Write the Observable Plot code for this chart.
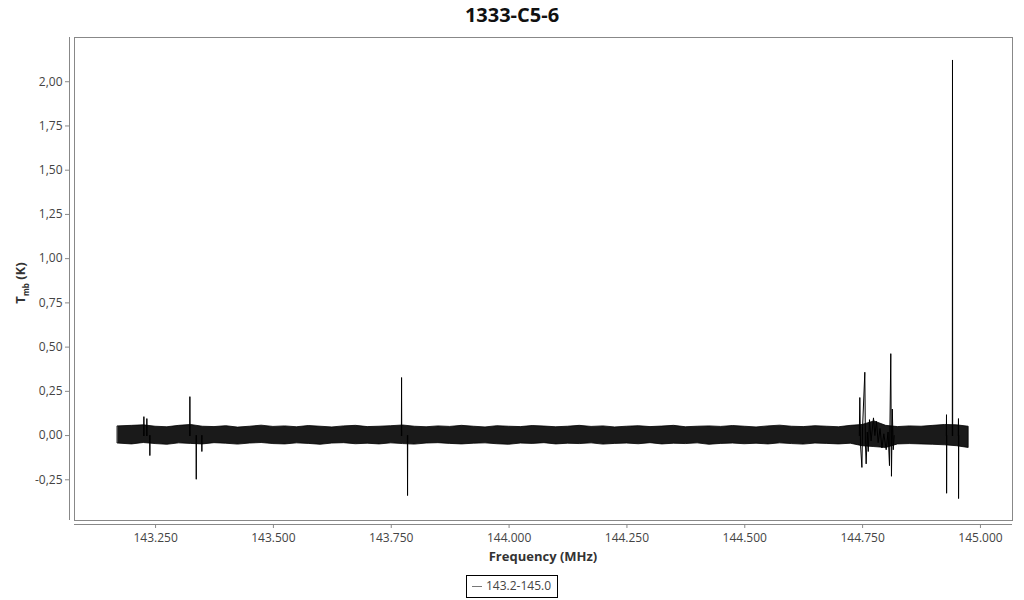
<!DOCTYPE html>
<html>
<head>
<meta charset="utf-8">
<script src="https://cdn.jsdelivr.net/npm/d3@7"></script>
<script src="https://cdn.jsdelivr.net/npm/@observablehq/plot@0.6"></script>
<style>
  body { margin: 0; background: #fff; font-family: "Open Sans", sans-serif; }
  #wrap { position: relative; width: 1024px; height: 600px; overflow: hidden; }
  #title { position: absolute; left: 0; top: 1px; width: 1024px; text-align: center;
           font: bold 20px "Open Sans", sans-serif; color: #111; }
  #chart { position: absolute; left: 0; top: 0; }
  #legend { position: absolute; left: 466px; top: 575px; width: 90px; height: 21px;
            border: 1px solid #000; box-sizing: content-box; font: 12px "Open Sans", sans-serif; color: #444; }
  #legend .sw { position: absolute; left: 5px; top: 10px; width: 10px; height: 0; border-top: 1px solid #777; }
  #legend .lb { position: absolute; left: 19px; top: 2px; line-height: 16px; white-space: nowrap; }
</style>
</head>
<body>
<div id="wrap">
  <div id="chart"></div>
  <div id="title"></div>
  <div id="legend"><span class="sw"></span><span class="lb"></span></div>
</div>
<script>
// ---- Text ----
const titleText = "1333-C5-6";
const xLabel = "Frequency (MHz)";
const seriesName = "143.2-145.0";

// ---- Ticks ----
const xTicks = [143.25, 143.5, 143.75, 144.0, 144.25, 144.5, 144.75, 145.0];
const yTicks = [-0.25, 0, 0.25, 0.5, 0.75, 1.0, 1.25, 1.5, 1.75, 2.0];

// ---- Baseline noise envelope (MHz, K) ----
const bandFreq = [
  143.170,143.200,143.225,143.250,143.275,143.300,143.325,143.350,143.375,143.400,
  143.425,143.450,143.475,143.500,143.525,143.550,143.575,143.600,143.625,143.650,
  143.675,143.700,143.725,143.750,143.775,143.800,143.825,143.850,143.875,143.900,
  143.925,143.950,143.975,144.000,144.025,144.050,144.075,144.100,144.125,144.150,
  144.175,144.200,144.225,144.250,144.275,144.300,144.325,144.350,144.375,144.400,
  144.425,144.450,144.475,144.500,144.525,144.550,144.575,144.600,144.625,144.650,
  144.675,144.700,144.725,144.750,144.775,144.800,144.825,144.850,144.875,144.900,
  144.925,144.950,144.975
];
const bandUpper = [
  0.052,0.055,0.058,0.05,0.047,0.055,0.06,0.05,0.048,0.053,
  0.045,0.05,0.056,0.049,0.052,0.047,0.054,0.05,0.046,0.052,
  0.055,0.048,0.05,0.053,0.057,0.05,0.047,0.052,0.049,0.055,
  0.05,0.046,0.053,0.05,0.048,0.054,0.051,0.047,0.05,0.055,
  0.049,0.052,0.046,0.05,0.053,0.048,0.051,0.055,0.047,0.05,
  0.052,0.049,0.054,0.05,0.046,0.052,0.056,0.05,0.048,0.053,
  0.05,0.047,0.055,0.06,0.08,0.055,0.048,0.052,0.05,0.055,
  0.06,0.058,0.05
];
const bandLower = [
  -0.045,-0.05,-0.042,-0.048,-0.052,-0.044,-0.047,-0.05,-0.043,-0.046,
  -0.051,-0.045,-0.042,-0.048,-0.05,-0.044,-0.047,-0.052,-0.045,-0.043,
  -0.049,-0.046,-0.05,-0.044,-0.048,-0.051,-0.045,-0.043,-0.047,-0.05,
  -0.046,-0.044,-0.049,-0.052,-0.045,-0.047,-0.043,-0.05,-0.046,-0.048,
  -0.044,-0.051,-0.047,-0.045,-0.049,-0.043,-0.05,-0.046,-0.048,-0.044,
  -0.052,-0.047,-0.045,-0.049,-0.046,-0.05,-0.044,-0.048,-0.051,-0.045,
  -0.047,-0.05,-0.046,-0.06,-0.065,-0.07,-0.05,-0.048,-0.05,-0.052,
  -0.055,-0.06,-0.07
];

// ---- Spectral features (MHz, K); null separates features ----
const specFreq = [
  143.2248,143.2252,143.2256, 143.228,
  143.2311,143.2315,143.2319, 143.234,
  143.2375,143.2379,143.2383, 143.30,
  143.3224,143.3228,143.3232, 143.33,
  143.3359,143.3363,143.3367, 143.34,
  143.3478,143.3482,143.3486, 143.70,
  143.7715,143.7719,143.7723, 143.78,
  143.7842,143.7846,143.7850, 144.70,
  144.7430,144.7441,144.7455,144.7485,144.7500,144.7547,144.7560,144.7575,
  144.7600,144.7620,144.7646,144.7680,144.7731,144.7760,144.7795,144.7830,
  144.7870,144.7910,144.7950,144.8000,144.8040,144.8070,144.8098,144.8112,
  144.8130,144.8150,144.8170, 144.90,
  144.9276,144.9280,144.9282,144.9286, 144.935,
  144.9403,144.9407,144.9411, 144.950,
  144.9530,144.9534,144.9536,144.9540
];
const specT = [
  0,0.107,0, null,
  0,0.096,0, null,
  0,-0.113,0, null,
  0,0.22,0, null,
  0,-0.247,0, null,
  0,-0.09,0, null,
  0,0.328,0, null,
  0,-0.339,0, null,
  0,0.215,-0.05,-0.18,0.05,0.358,-0.05,-0.16,
  0.02,-0.09,0.09,-0.03,0.10,0.0,0.08,-0.04,
  0.04,-0.07,0.01,-0.08,0.02,-0.17,0.463,-0.23,
  0.15,-0.08,0, null,
  0,0.118,-0.326,0, null,
  0,2.123,0, null,
  0,0.096,-0.356,0
];

const band = bandFreq.map((f, i) => ({f, lo: bandLower[i], hi: bandUpper[i]}));
const spec = specFreq.map((f, i) => ({f, t: specT[i]}));

const xDomain = [143.078, 145.068];
const yDomain = [-0.48, 2.25];
const commaFmt = d => d.toFixed(2).replace(".", ",");

const plot = Plot.plot({
  width: 1024,
  height: 600,
  marginTop: 37,
  marginBottom: 80,
  marginLeft: 74,
  marginRight: 12,
  style: {fontFamily: "Open Sans", fontSize: "12px", color: "#444", background: "transparent", overflow: "visible"},
  x: {domain: xDomain},
  y: {domain: yDomain},
  marks: [
    Plot.frame({stroke: "#888"}),
    Plot.ruleX([xDomain[0]], {dx: -5, stroke: "#888"}),
    Plot.ruleY([yDomain[0]], {dy: 4, stroke: "#888"}),
    Plot.axisY({ticks: yTicks, tickFormat: commaFmt, dx: -5, tickSize: 4, tickPadding: 3, label: null, stroke: "#888", fill: "#444"}),
    Plot.axisX({ticks: xTicks, tickFormat: d3.format(".3f"), dy: 4, tickSize: 4, tickPadding: 5, label: null, stroke: "#888", fill: "#444"}),
    Plot.areaY(band, {x: "f", y1: "lo", y2: "hi", fill: "#1a1a1a", stroke: "#000", strokeWidth: 0.8, curve: "linear"}),
    Plot.line(spec, {x: "f", y: "t", stroke: "#000", strokeWidth: 1})
  ]
});

document.getElementById("chart").appendChild(plot);
document.getElementById("title").textContent = titleText;
document.querySelector("#legend .lb").textContent = seriesName;

const svg = d3.select(plot);
svg.append("text")
  .attr("x", 543).attr("y", 561)
  .attr("text-anchor", "middle")
  .attr("font-family", "Open Sans").attr("font-weight", "bold").attr("font-size", 13)
  .attr("fill", "#333")
  .text(xLabel);

const yl = svg.append("text")
  .attr("transform", "translate(25,283) rotate(-90)")
  .attr("text-anchor", "middle")
  .attr("font-family", "Open Sans").attr("font-weight", "bold").attr("font-size", 13)
  .attr("fill", "#333");
yl.append("tspan").text("T");
yl.append("tspan").attr("font-size", 8).attr("dy", 4).text("mb");
yl.append("tspan").attr("dy", -4).text(" (K)");
</script>
</body>
</html>
